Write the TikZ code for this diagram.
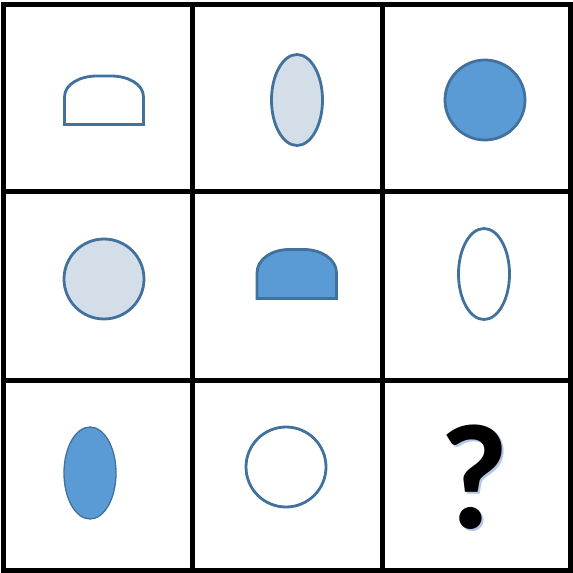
\documentclass[tikz,border=0pt]{standalone}
\usepackage{fontspec}
\setmainfont{Carlito}
\usetikzlibrary{shapes.geometric,patterns.meta}
\definecolor{edgeblue}{HTML}{41719C}
\definecolor{fillblue}{HTML}{5B9BD5}
\definecolor{shadowblue}{HTML}{B4C7E7}
\tikzset{
  gridline/.style={line width=5pt, black, line cap=rect},
  shp/.style={draw=edgeblue, line width=2.8pt, inner sep=0pt, fill=white},
  solidfill/.style={fill=fillblue},
  dotfill/.style={pattern={Dots[distance=2pt, radius=0.62pt]}, pattern color=edgeblue},
  oval/.style={ellipse, minimum width=51pt, minimum height=91pt},
  roundel/.style={circle, minimum size=80pt},
  qmark/.style={font=\bfseries\fontsize{150}{150}\selectfont, inner sep=0pt}
}
\begin{document}
\begin{tikzpicture}[x=1pt,y=-1pt]
\useasboundingbox (0,0) rectangle (573,573);
\fill[white] (0,0) rectangle (573,573);
% grid
\draw[gridline] (3,4) rectangle (570.5,570);
\draw[gridline] (192.5,4) -- (192.5,570);
\draw[gridline] (382,4) -- (382,570);
\draw[gridline] (3,191) -- (570.5,191);
\draw[gridline] (3,380) -- (570.5,380);
% row 1
\draw[shp] (64.5,124.5) -- (64.5,97) .. controls (64.5,84) and (80,76) .. (97,76)
  -- (111,76) .. controls (128,76) and (143.5,84) .. (143.5,97) -- (143.5,124.5) -- cycle;
\node[shp, oval, dotfill] (e1) at (297,100) {};
\node[shp, roundel, solidfill] (c1) at (485,100) {};
% row 2
\node[shp, roundel, dotfill] (c2) at (104,279) {};
\draw[shp, solidfill] (257,298.5) -- (257,273) .. controls (257,259) and (272,249.5) .. (289,249.5)
  -- (304,249.5) .. controls (321,249.5) and (336.5,259) .. (336.5,273) -- (336.5,298.5) -- cycle;
\node[shp, oval] (e2) at (484,274) {};
% row 3
\node[shp, oval, solidfill, line width=1.3pt, minimum width=52pt, minimum height=92pt] (e3) at (90,473) {};
\node[shp, roundel] (c3) at (286,467) {};
\node[qmark] (q) at (474,478) {\rlap{\kern2.5pt\raisebox{-2.5pt}{\color{shadowblue}?}}?};
\end{tikzpicture}
\end{document}
